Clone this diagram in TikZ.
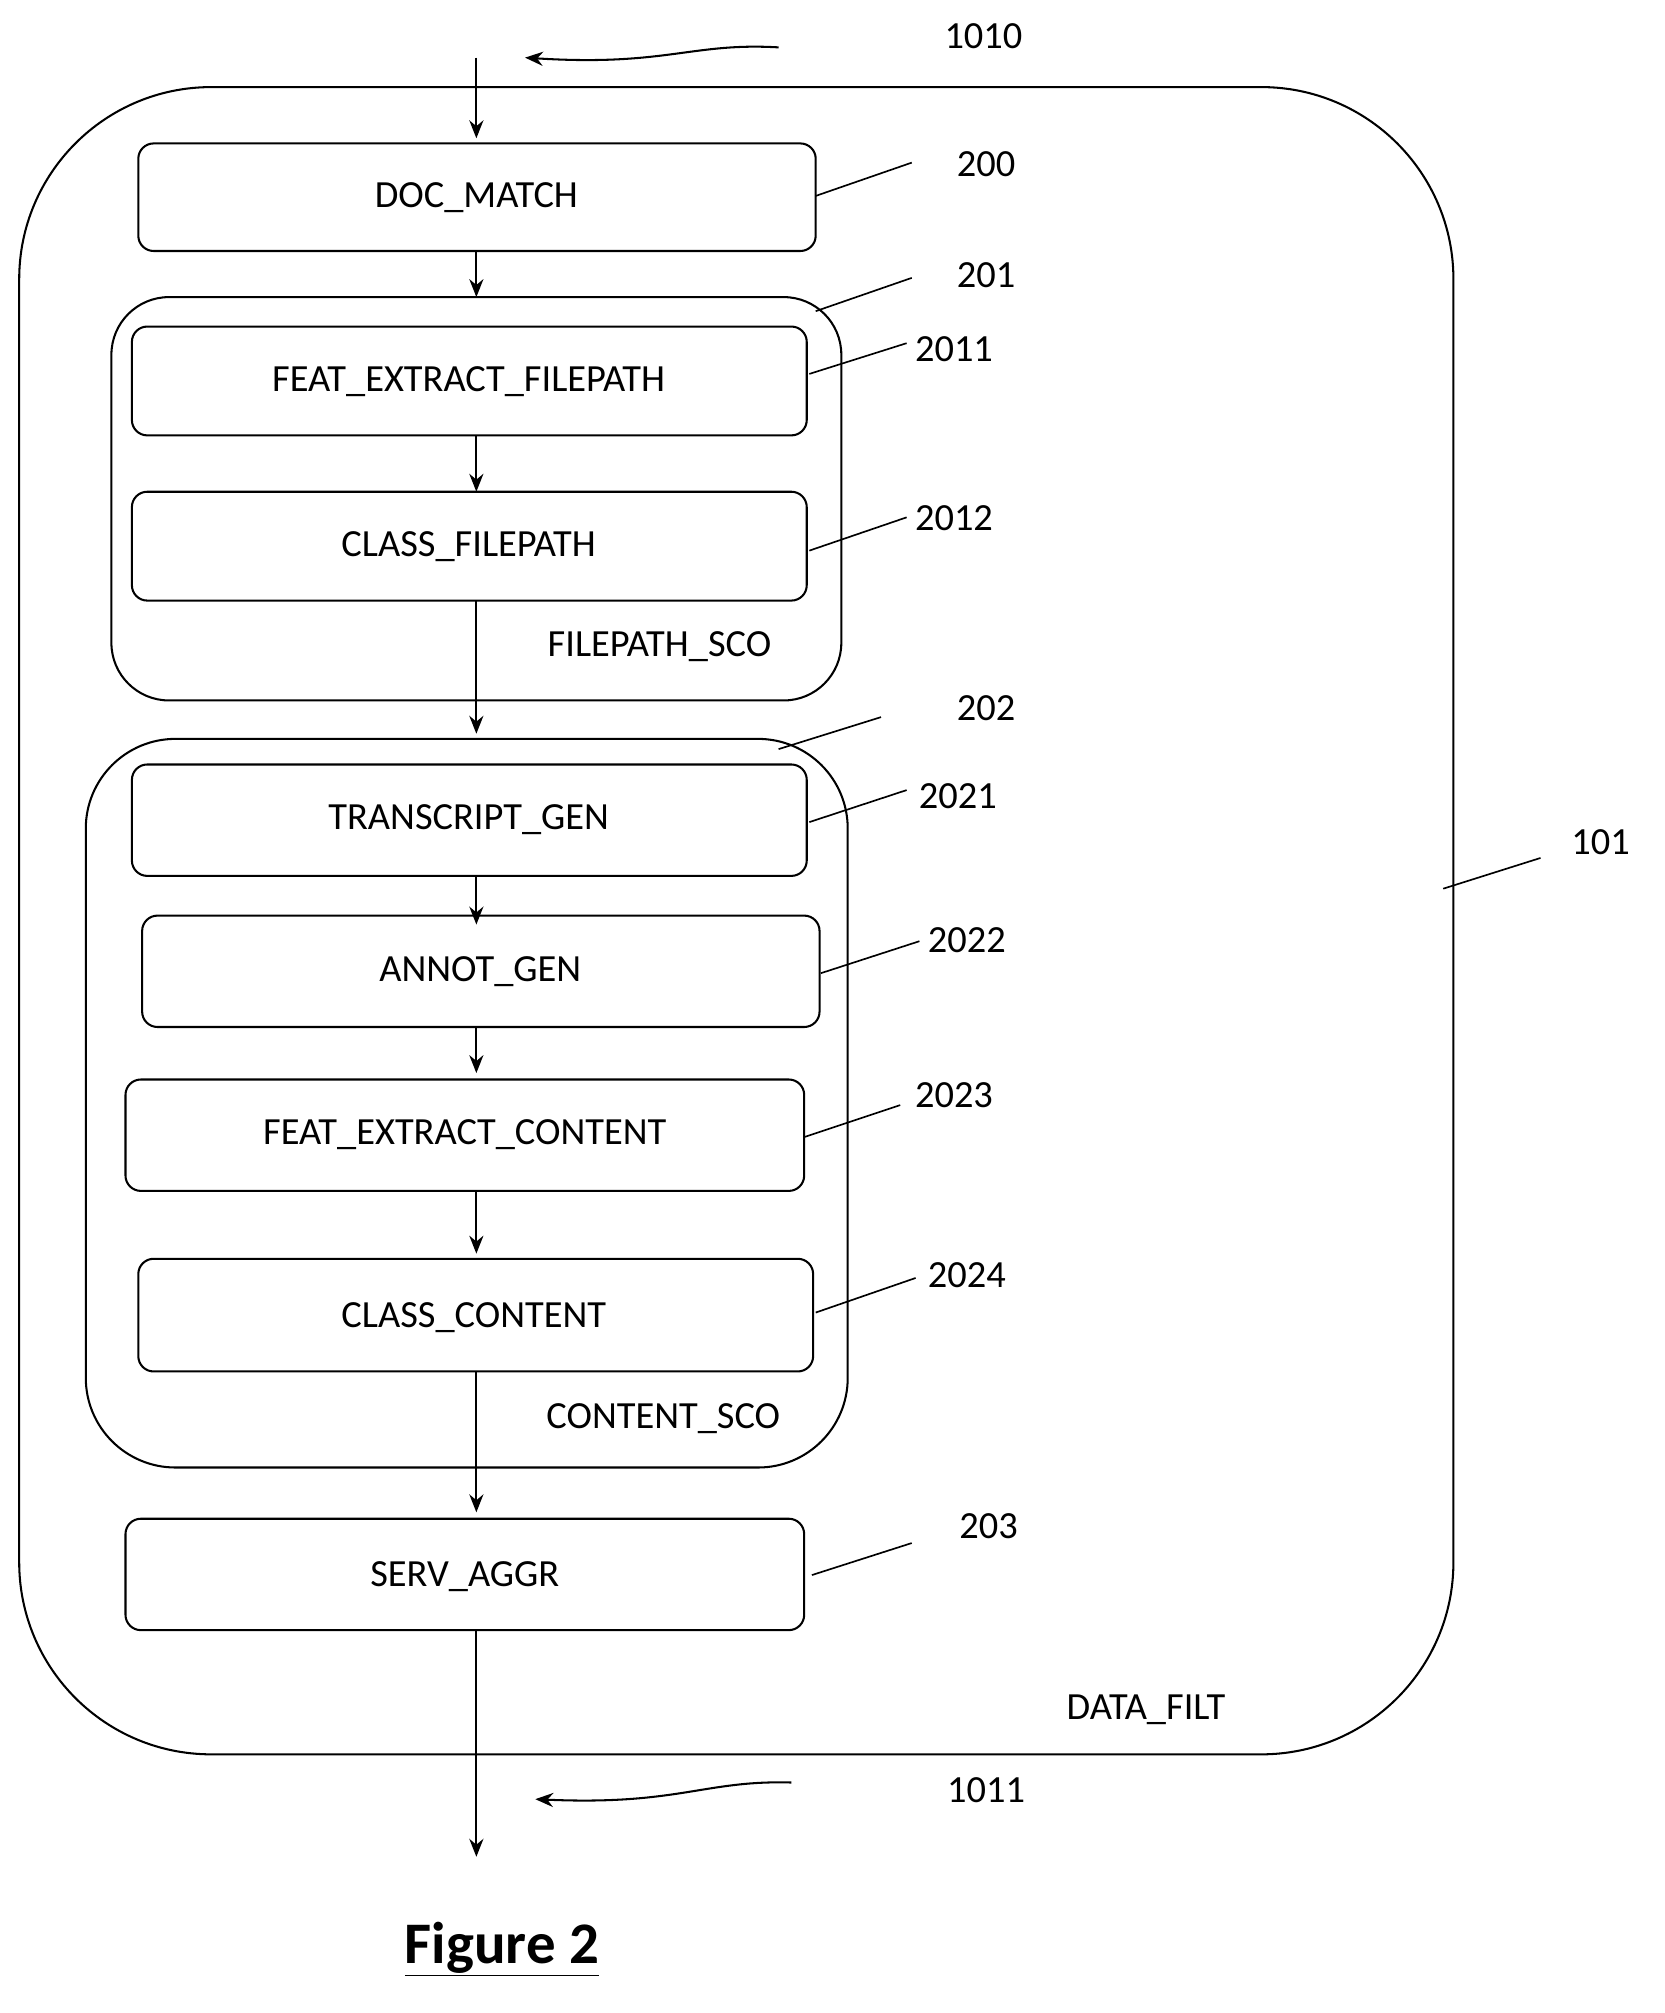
\documentclass[tikz,border=0pt]{standalone}
\usepackage{fontspec}
\setmainfont{Carlito}
\usetikzlibrary{arrows.meta}
\begin{document}
\begin{tikzpicture}[x=1pt,y=-1pt,
  box/.style={draw,line width=1.6pt,rounded corners=12pt},
  lbl/.style={font=\fontsize{30}{34}\selectfont},
  num/.style={font=\fontsize{30}{34}\selectfont},
  ld/.style={line width=1.3pt},
  arr/.style={line width=1.6pt,-{Stealth[length=14pt,width=11pt]}}]
\useasboundingbox (0,0) rectangle (1300,1572);
% outer
\draw[line width=1.6pt,rounded corners=150pt] (15,68) rectangle (1135,1370);
\draw[line width=1.6pt,rounded corners=45pt] (87,232) rectangle (657,547);
\draw[line width=1.6pt,rounded corners=70pt] (67,577) rectangle (662,1146);
% boxes
\draw[box] (108,112) rectangle (637,196); \node[lbl] (dm) at (372,154) {DOC\_MATCH};
\draw[box] (103,255) rectangle (630,340); \node[lbl] (fef) at (366,298) {FEAT\_EXTRACT\_FILEPATH};
\draw[box] (103,384) rectangle (630,469); \node[lbl] (cf) at (366,427) {CLASS\_FILEPATH};
\draw[box] (103,597) rectangle (630,684); \node[lbl] (tg) at (366,640) {TRANSCRIPT\_GEN};
\draw[box] (111,715) rectangle (640,802); \node[lbl] (ag) at (375,759) {ANNOT\_GEN};
\draw[box] (98,843) rectangle (628,930); \node[lbl] (fec) at (363,886) {FEAT\_EXTRACT\_CONTENT};
\draw[box] (108,983) rectangle (635,1071); \node[lbl] (cc) at (370,1029) {CLASS\_CONTENT};
\draw[box] (98,1186) rectangle (628,1273); \node[lbl] (sa) at (363,1231) {SERV\_AGGR};
\node[lbl] (fs) at (515,505) {FILEPATH\_SCO};
\node[lbl] (cs) at (518,1108) {CONTENT\_SCO};
\node[lbl] (df) at (895,1335) {DATA\_FILT};
% coordinates for arrows
\coordinate (a0) at (372,45); \coordinate (a0e) at (372,108);
\draw[arr] (a0) -- (a0e);
\draw[arr] (372,196) -- (372,232);
\draw[arr] (372,340) -- (372,384);
\draw[arr] (372,469) -- (372,573);
\draw[arr] (372,684) -- (372,722);
\draw[arr] (372,802) -- (372,838);
\draw[arr] (372,930) -- (372,979);
\draw[arr] (372,1071) -- (372,1181);
\draw[arr] (372,1273) -- (372,1450);
% label arrows
\draw[arr] (608,37) .. controls (540,33) and (520,52) .. (410,45);
\node[num] (n1010) at (768,28) {1010};
\draw[arr] (618,1392) .. controls (550,1390) and (530,1410) .. (418,1405);
\node[num] (n1011) at (770,1398) {1011};
% leaders
\draw[ld] (637,153) -- (712,127); \node[num] at (770,128) {200};
\draw[ld] (637,243) -- (712,217); \node[num] at (770,215) {201};
\draw[ld] (632,292) -- (708,268); \node[num] at (745,273) {2011};
\draw[ld] (632,430) -- (708,404); \node[num] at (745,405) {2012};
\draw[ld] (608,585) -- (688,560); \node[num] at (770,553) {202};
\draw[ld] (632,642) -- (708,617); \node[num] at (748,622) {2021};
\draw[ld] (641,760) -- (718,735); \node[num] at (755,734) {2022};
\draw[ld] (628,888) -- (703,863); \node[num] at (745,855) {2023};
\draw[ld] (637,1025) -- (715,998); \node[num] at (755,996) {2024};
\draw[ld] (634,1230) -- (712,1205); \node[num] at (772,1192) {203};
\draw[ld] (1127,694) -- (1203,670); \node[num] at (1250,658) {101};
\node[font=\fontsize{46}{52}\selectfont\bfseries] (fig) at (392,1522) {\underline{Figure 2}};
\end{tikzpicture}
\end{document}
